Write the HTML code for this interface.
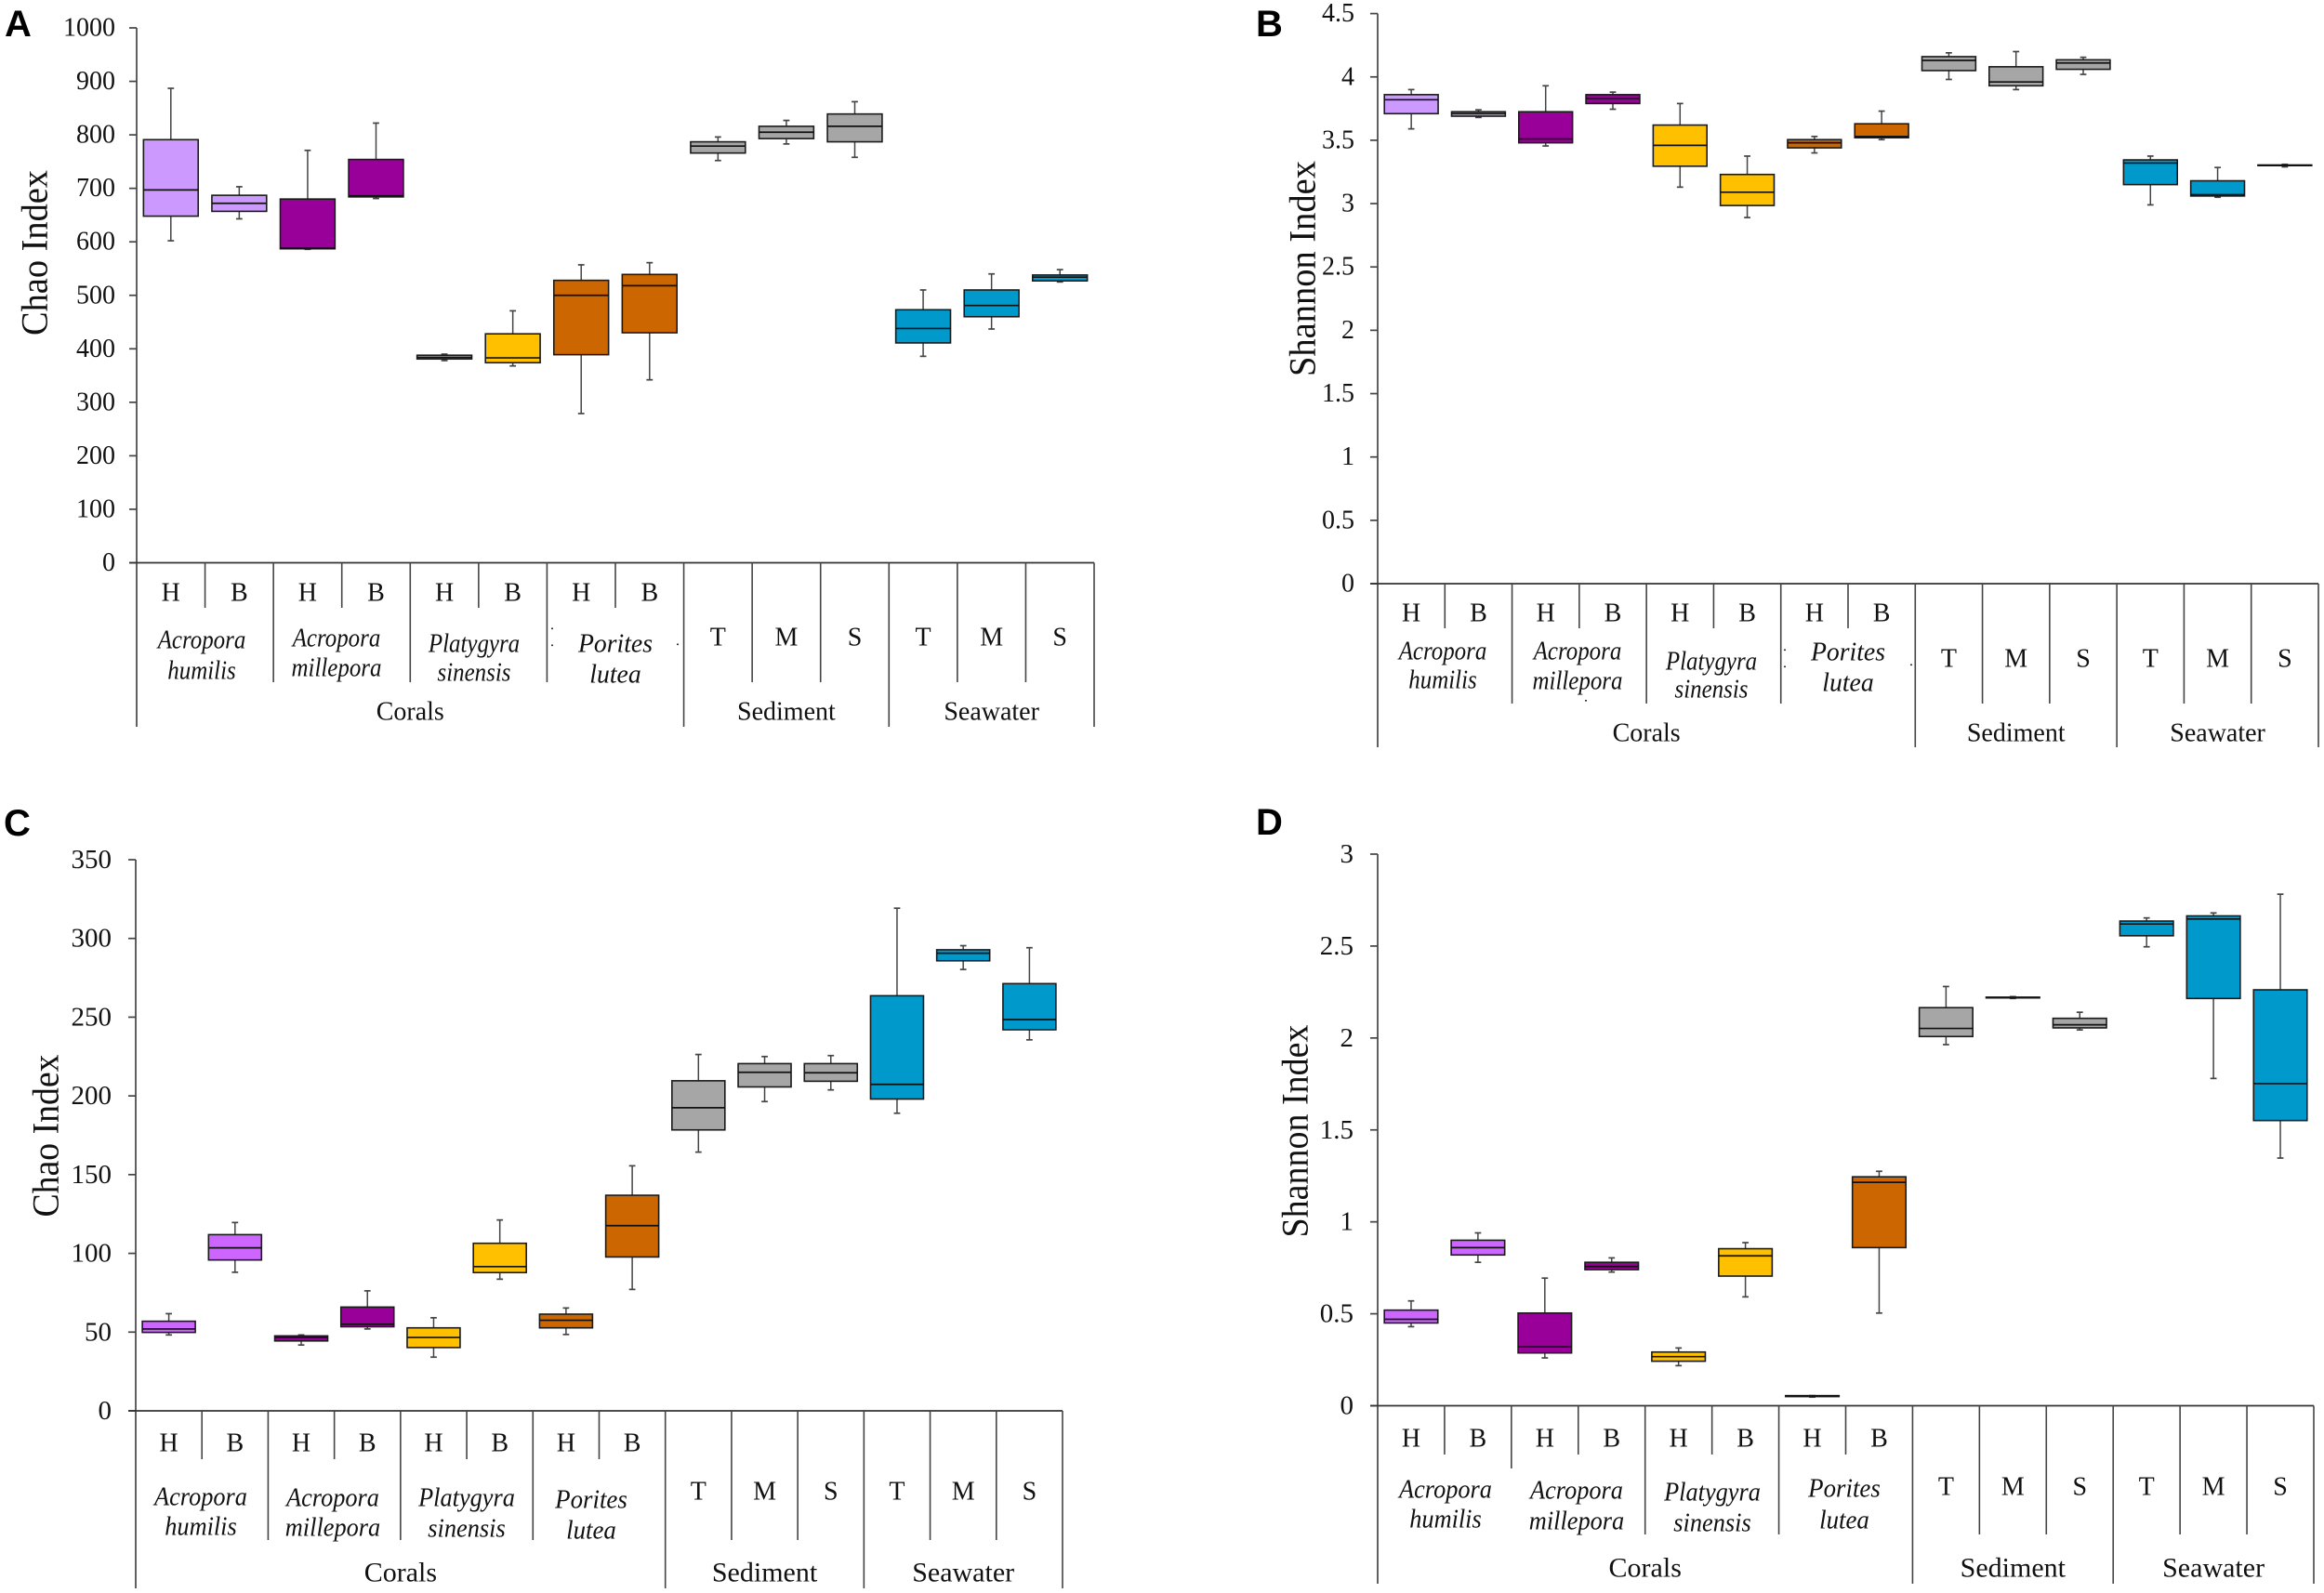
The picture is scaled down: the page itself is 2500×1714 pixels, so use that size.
<!DOCTYPE html>
<html lang="en">
<head>
<meta charset="utf-8">
<title>Chao and Shannon index box plots</title>
<style>
html,body{margin:0;padding:0;background:#fff;}
svg{display:block;}
text{font-family:"Liberation Serif","Times New Roman",serif;fill:#111;}
.letter{font-family:"Liberation Sans",Arial,sans-serif;font-weight:bold;fill:#000;}
</style>
</head>
<body>
<svg id="chart" xmlns="http://www.w3.org/2000/svg" width="2500" height="1714" viewBox="0 0 2500 1714"></svg>
<script>
// ---------- Shared categories ----------
const sampleLabels = ['H','B','H','B','H','B','H','B','T','M','S','T','M','S'];
const sampleKinds = ['humilis','humilis','millepora','millepora','platygyra','platygyra','porites','porites','sediment','sediment','sediment','seawater','seawater','seawater'];
const speciesNames = [['Acropora','humilis'],['Acropora','millepora'],['Platygyra','sinensis'],['Porites','lutea']];
const groupNames = ['Corals','Sediment','Seawater'];

// ---------- Panel A: Chao index ----------
const aTicks = ['0','100','200','300','400','500','600','700','800','900','1000'];
const aLow  = [602,643,586,681,378,368,279,342,752,783,758,386,437,525];
const aQ1   = [648,657,587,684,381,374,389,430,766,793,787,411,460,527];
const aMed  = [697,672,588,686,384,383,500,518,779,805,816,438,481,534];
const aQ3   = [791,687,680,754,388,428,528,539,787,816,839,473,510,538];
const aHigh = [887,703,771,822,390,471,557,561,796,827,862,510,540,548];

// ---------- Panel B: Shannon index ----------
const bTicks = ['0','0.5','1','1.5','2','2.5','3','3.5','4','4.5'];
const bLow  = [3.59,3.68,3.455,3.745,3.13,2.89,3.40,3.505,3.98,3.90,4.02,2.99,3.05,3.29];
const bQ1   = [3.71,3.69,3.48,3.79,3.295,2.985,3.44,3.52,4.05,3.93,4.06,3.15,3.06,3.30];
const bMed  = [3.82,3.71,3.51,3.83,3.46,3.09,3.48,3.53,4.13,3.96,4.11,3.32,3.07,3.30];
const bQ3   = [3.86,3.725,3.725,3.86,3.62,3.23,3.505,3.63,4.16,4.08,4.135,3.345,3.18,3.305];
const bHigh = [3.90,3.74,3.93,3.88,3.79,3.375,3.53,3.73,4.19,4.20,4.155,3.375,3.285,3.31];

// ---------- Panel C: Chao index ----------
const cTicks = ['0','50','100','150','200','250','300','350'];
const cLow  = [48.2,88,41.8,52,34.1,83.6,48.5,77.1,164.3,196.4,203.8,189,280.3,235.6];
const cQ1   = [49.8,95.8,44.4,53.4,40.2,87.8,52.7,97.7,178.4,205.7,209.3,198,285.8,242];
const cMed  = [52,103.5,46.6,55,46.6,91.6,57.5,117.6,192.5,215,214.7,207.3,290.6,248.5];
const cQ3   = [56.9,111.9,47.6,65.9,52.7,106.4,61.4,136.9,209.6,220.5,220.5,263.6,292.8,271.3];
const cHigh = [61.7,119.6,48.2,76.2,59.1,121.2,65.3,155.6,226.3,225,225.6,319.2,295.4,294.1];

// ---------- Panel D: Shannon index ----------
const dTicks = ['0','0.5','1','1.5','2','2.5','3'];
const dLow  = [0.43,0.78,0.26,0.727,0.218,0.592,0.047,0.504,1.964,2.215,2.044,2.496,1.78,1.347];
const dQ1   = [0.45,0.82,0.287,0.74,0.242,0.705,0.05,0.86,2.008,2.218,2.055,2.556,2.215,1.551];
const dMed  = [0.47,0.86,0.32,0.757,0.267,0.815,0.052,1.215,2.052,2.22,2.072,2.62,2.647,1.752];
const dQ3   = [0.52,0.90,0.504,0.78,0.292,0.854,0.055,1.245,2.165,2.222,2.107,2.636,2.664,2.262];
const dHigh = [0.57,0.94,0.694,0.804,0.314,0.887,0.055,1.275,2.28,2.225,2.14,2.653,2.68,2.782];

const NS = 'http://www.w3.org/2000/svg';
const root = document.getElementById('chart');

function node(parent, tag, attrs) {
  const el = document.createElementNS(NS, tag);
  for (const k in attrs) el.setAttribute(k, attrs[k]);
  parent.appendChild(el);
  return el;
}
function line(parent, x1, y1, x2, y2, stroke, width, name) {
  const el = node(parent, 'line', {x1: x1, y1: y1, x2: x2, y2: y2, stroke: stroke, 'stroke-width': width});
  
  
  return el;
}
function label(parent, x, y, str, size, anchor, name, italic) {
  const el = node(parent, 'text', {x: x, y: y, 'font-size': size, 'text-anchor': anchor, 'dominant-baseline': 'central'});
  if (italic) el.setAttribute('font-style', 'italic');
  el.textContent = str;
  
  
  return el;
}
function condense(el, scale) {
  const w = el.getComputedTextLength();
  el.setAttribute('textLength', (w * scale).toFixed(1));
  el.setAttribute('lengthAdjust', 'spacingAndGlyphs');
}

function drawPanel(p) {
  const g = node(root, 'g', {});
  
  

  const yMax = parseFloat(p.ticks[p.ticks.length - 1]);
  const yScale = v => p.y0 + (p.yTop - p.y0) * (v / yMax);
  const band = (p.x1 - p.x0) / sampleLabels.length;
  const edge = i => p.x0 + band * i;
  const centre = i => edge(i) + band / 2;
  const boxW = band * 0.8;
  const fillOf = {humilis: p.lightPurple, millepora: '#990099', platygyra: '#FFC000', porites: '#CC6600', sediment: '#A6A6A6', seawater: '#0099CC'};

  // panel letter
  const letter = node(g, 'text', {x: p.letterX, y: p.letterY, 'font-size': 40, 'class': 'letter'});
  letter.textContent = p.id;
  
  

  // y axis
  line(g, p.x0, p.yTop, p.x0, p.yEnd, '#444', 1.7, 'y-axis-line');
  p.ticks.forEach(t => {
    const v = parseFloat(t);
    line(g, p.x0 - 8, yScale(v), p.x0, yScale(v), '#444', 1.7, 'y-tick');
    label(g, p.labelRight, yScale(v), t, p.tickSize, 'end', 'y-tick-label');
  });
  // y title
  const title = node(g, 'text', {
    x: 0, y: 0, 'font-size': 40, 'text-anchor': 'middle', 'dominant-baseline': 'central',
    textLength: p.titleLen, lengthAdjust: 'spacingAndGlyphs',
    transform: 'translate(' + p.titleX + ',' + p.titleY + ') rotate(-90)'
  });
  title.textContent = p.title;
  
  

  // x axis baseline + multi-level separators
  line(g, p.x0 - 8, p.y0, p.x1, p.y0, '#333', 1.8, 'x-axis-line');
  for (let i = 1; i <= sampleLabels.length; i++) {
    let end = p.sepSpecies;
    if (i === 1 || i === 3 || i === 5 || i === 7) end = p.sepSample;
    if (i === 2 && p.sepExtra) end = p.sepExtra;
    if (i === 8 || i === 11 || i === 14) end = p.yEnd;
    line(g, edge(i), p.y0, edge(i), end, '#444', 1.6, 'x-separator');
  }

  // sample labels
  sampleLabels.forEach((s, i) => {
    const y = i < 8 ? p.hbY : p.tmsY;
    label(g, centre(i), y, s, 28, 'middle', 'sample-label');
  });
  // species labels
  speciesNames.forEach((pair, i) => {
    const first = label(g, p.speciesX[i], p.speciesY1[i], pair[0], 28, 'middle', 'species-label', true);
    const second = label(g, p.speciesX[i], p.speciesY2[i], pair[1], 28, 'middle', 'species-label', true);
    condense(first, p.speciesScale[i]);
    condense(second, p.speciesScale[i]);
  });
  // group labels
  label(g, (edge(0) + edge(8)) / 2, p.groupY, groupNames[0], p.groupSize, 'middle', 'group-label');
  label(g, (edge(8) + edge(11)) / 2, p.groupY, groupNames[1], p.groupSize, 'middle', 'group-label');
  label(g, (edge(11) + edge(14)) / 2, p.groupY, groupNames[2], p.groupSize, 'middle', 'group-label');

  // stray specks visible around the species labels
  (p.specks || []).forEach(s => {
    const d = node(g, 'rect', {x: s[0], y: s[1], width: 2, height: 1.6, fill: '#333'});
    
    
  });

  // boxes
  sampleLabels.forEach((s, i) => {
    const b = node(g, 'g', {});
    
    
    const cx = centre(i);
    const capW = 3.4;
    line(b, cx, yScale(p.high[i]), cx, yScale(p.q3[i]), '#444', 1.5, 'whisker-upper');
    line(b, cx - capW, yScale(p.high[i]), cx + capW, yScale(p.high[i]), '#444', 1.7, 'whisker-cap-upper');
    line(b, cx, yScale(p.q1[i]), cx, yScale(p.low[i]), '#444', 1.5, 'whisker-lower');
    line(b, cx - capW, yScale(p.low[i]), cx + capW, yScale(p.low[i]), '#444', 1.7, 'whisker-cap-lower');
    const top = yScale(p.q3[i]);
    const bottom = yScale(p.q1[i]);
    const r = node(b, 'rect', {x: cx - boxW / 2, y: top, width: boxW, height: Math.max(bottom - top, 0.5), fill: fillOf[sampleKinds[i]], stroke: '#1a1a1a', 'stroke-width': 1.6});
    
    
    line(b, cx - boxW / 2, yScale(p.med[i]), cx + boxW / 2, yScale(p.med[i]), '#111', 1.7, 'box-median');
  });
}

drawPanel({
  id: 'A', title: 'Chao Index', ticks: aTicks,
  low: aLow, q1: aQ1, med: aMed, q3: aQ3, high: aHigh, lightPurple: '#CC99FF',
  x0: 147, x1: 1177, yTop: 30, y0: 605.5, yEnd: 782,
  labelRight: 124, letterX: 5, letterY: 39, tickSize: 28, groupSize: 28,
  titleX: 37, titleY: 272, titleLen: 178,
  sepSample: 654, sepSpecies: 734,
  hbY: 638, tmsY: 686, groupY: 766,
  speciesX: [217, 362, 510, 662], speciesY1: [689, 687, 693, 693], speciesY2: [722, 719, 724, 726],
  speciesScale: [0.89, 0.89, 0.89, 0.99],
  specks: [[593, 675.5], [593, 693.5], [728, 692.5]]
});
drawPanel({
  id: 'B', title: 'Shannon Index', ticks: bTicks,
  low: bLow, q1: bQ1, med: bMed, q3: bQ3, high: bHigh, lightPurple: '#CC99FF',
  x0: 1482, x1: 2494, yTop: 14.6, y0: 628, yEnd: 804,
  labelRight: 1457, letterX: 1351, letterY: 39, tickSize: 28, groupSize: 28,
  titleX: 1401, titleY: 289, titleLen: 232,
  sepSample: 676, sepSpecies: 757,
  hbY: 660, tmsY: 709, groupY: 789,
  speciesX: [1552, 1697, 1841, 1988], speciesY1: [701, 701, 712, 702], speciesY2: [732, 733, 742, 735],
  speciesScale: [0.89, 0.89, 0.89, 0.99],
  specks: [[1919, 698.5], [1919, 716.5], [2055, 714.5], [1705, 753]]
});
drawPanel({
  id: 'C', title: 'Chao Index', ticks: cTicks,
  low: cLow, q1: cQ1, med: cMed, q3: cQ3, high: cHigh, lightPurple: '#CC66FF',
  x0: 146, x1: 1143, yTop: 925, y0: 1518, yEnd: 1709,
  labelRight: 120, letterX: 4, letterY: 899, tickSize: 29, groupSize: 30,
  titleX: 49, titleY: 1222, titleLen: 175,
  sepSample: 1570, sepSpecies: 1657,
  hbY: 1553, tmsY: 1605, groupY: 1692,
  speciesX: [216, 358, 502, 636], speciesY1: [1611, 1612, 1612, 1614], speciesY2: [1643, 1644, 1645, 1647],
  speciesScale: [0.94, 0.94, 0.94, 0.96]
});
drawPanel({
  id: 'D', title: 'Shannon Index', ticks: dTicks,
  low: dLow, q1: dQ1, med: dMed, q3: dQ3, high: dHigh, lightPurple: '#CC66FF',
  x0: 1482, x1: 2489, yTop: 919, y0: 1512.5, yEnd: 1704,
  labelRight: 1456, letterX: 1351, letterY: 898, tickSize: 29, groupSize: 30,
  titleX: 1393, titleY: 1217, titleLen: 229,
  sepSample: 1565, sepSpecies: 1651, sepExtra: 1580,
  hbY: 1548, tmsY: 1600, groupY: 1687,
  speciesX: [1555, 1696, 1842, 1984], speciesY1: [1603, 1604, 1606, 1602], speciesY2: [1635, 1637, 1639, 1636],
  speciesScale: [0.94, 0.94, 0.94, 0.96]
});
</script>
</body>
</html>
